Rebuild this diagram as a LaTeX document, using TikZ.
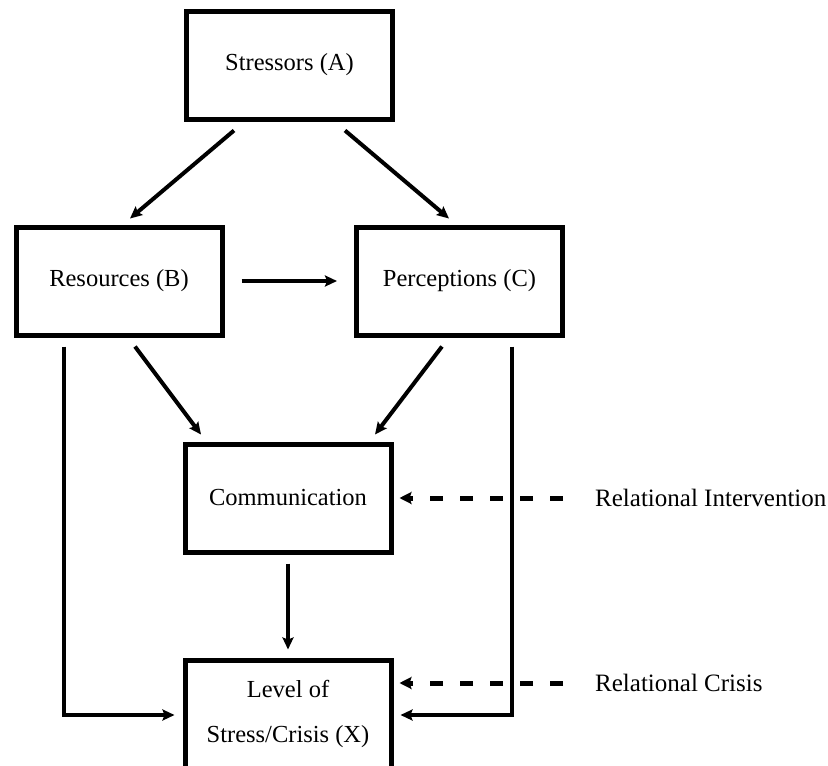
\documentclass[tikz,border=0pt]{standalone}
\usepackage{fontspec}
\setmainfont{Liberation Serif}
\usetikzlibrary{arrows.meta}

\begin{document}
\begin{tikzpicture}[y=-1pt,x=1pt,
	box/.style={draw, line width=5pt, minimum width=206pt, minimum height=108pt, inner sep=0pt, align=center, font=\fontsize{24.5}{45}\selectfont},
	lbl/.style={anchor=west, inner sep=0pt, font=\fontsize{25}{30}\selectfont},
	link/.style={line width=4pt, -{Stealth[length=12pt,width=11pt,inset=2pt]}},
	hint/.style={line width=5pt, dash pattern=on 13pt off 17pt, -{Stealth[length=12pt,width=12pt,inset=2pt]}}]
	\useasboundingbox (0,0) rectangle (828,766);

	\node[box] (A) at (289.5,65) {Stressors (A)};
	\node[box] (B) at (119,281) {Resources (B)};
	\node[box] (C) at (459.5,281) {Perceptions (C)};
	\node[box] (D) at (288,498) {Communication};
	\node[box] (X) at (288,714) {Level of\\Stress/Crisis (X)};

	\node[lbl] (RI) at (595,498) {Relational Intervention};
	\node[lbl] (RC) at (595,683) {Relational Crisis};

	\draw[link] ([shift={(-55.5,9)}]A.south) -- ([shift={(11,-6)}]B.north);
	\draw[link] ([shift={(55.5,9)}]A.south) -- ([shift={(-10.5,-6)}]C.north);
	\draw[link] ([xshift=17pt]B.east) -- ([xshift=-17pt]C.west);

	\draw[link] ([shift={(16,9)}]B.south) -- ([shift={(-87,-7)}]D.north);
	\draw[link] ([shift={(-17.5,9)}]C.south) -- ([shift={(87,-7)}]D.north);
	\draw[link] ([yshift=-9pt]D.south) -- ([yshift=8pt]X.north);

	\draw[link] ([shift={(-55.5,9)}]B.south) |- ([shift={(-8,1)}]X.west);
	\draw[link] ([shift={(52.5,9)}]C.south) |- ([shift={(7,1)}]X.east);

	\draw[hint] ([xshift=-32pt]RI.west) -- ([xshift=6pt]D.east);
	\draw[hint] ([xshift=-32pt]RC.west) -- ([shift={(6,-31)}]X.east);
\end{tikzpicture}
\end{document}
